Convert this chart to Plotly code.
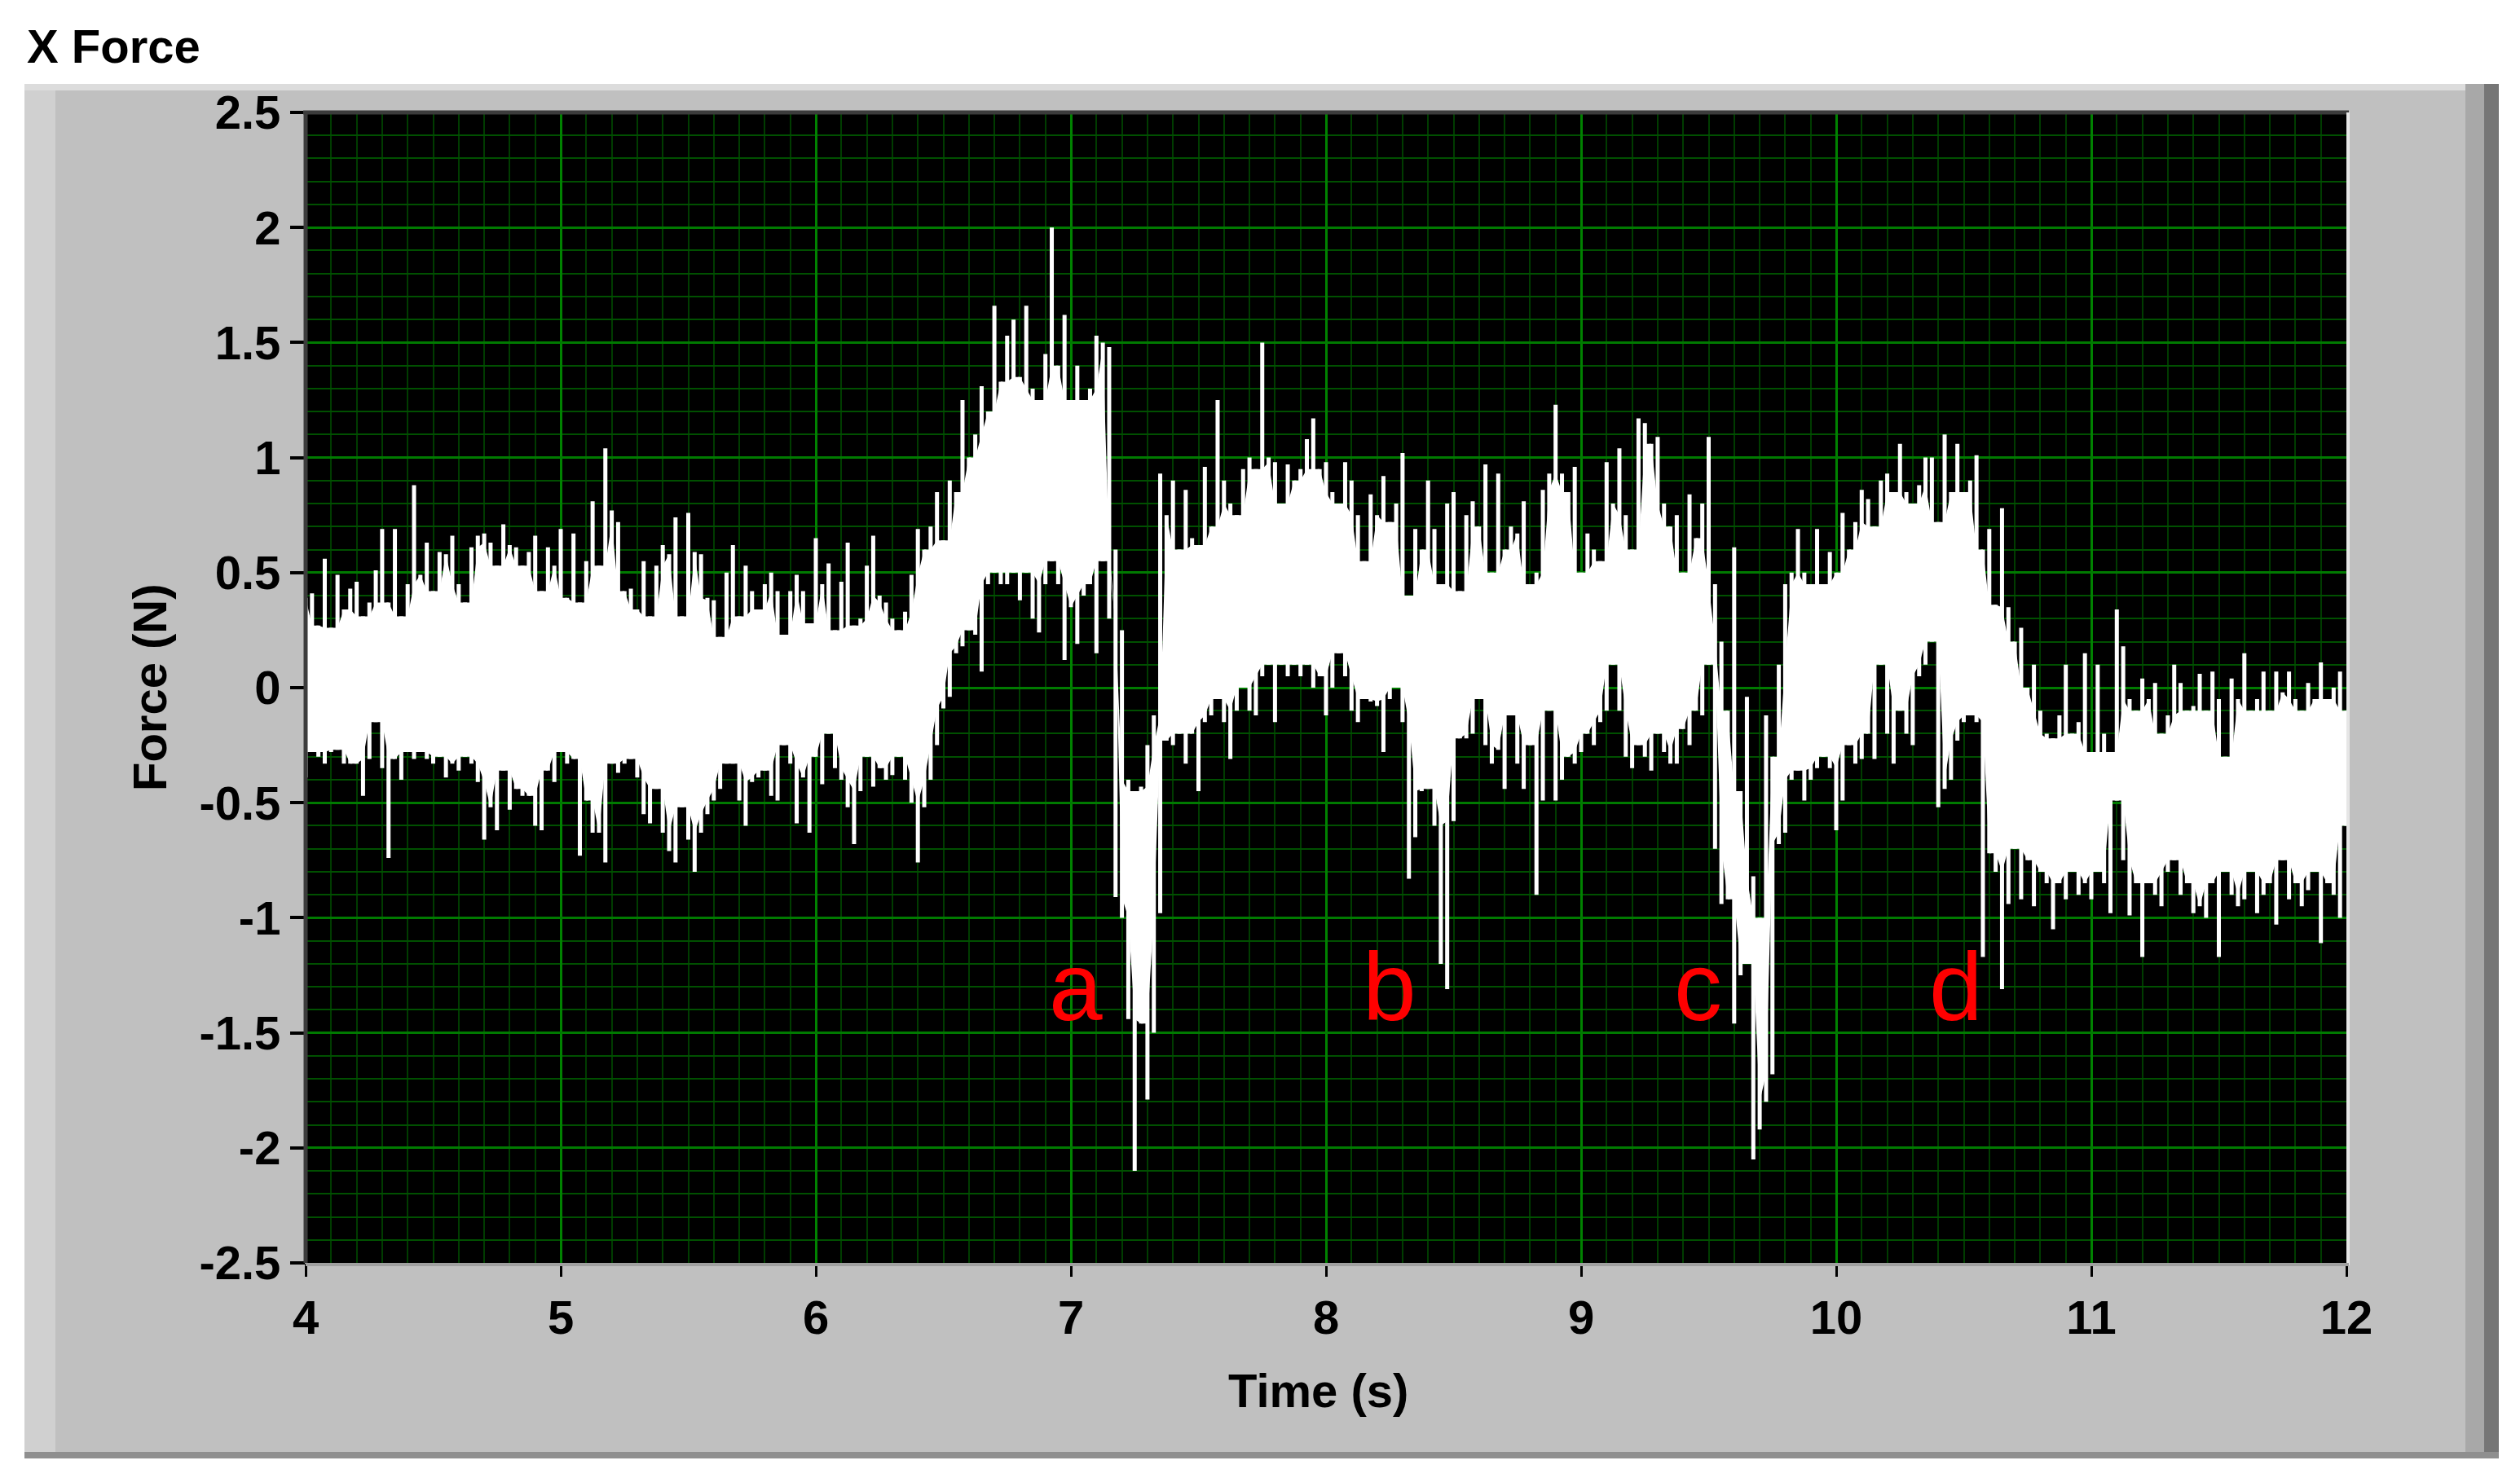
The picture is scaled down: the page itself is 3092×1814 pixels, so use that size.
import plotly.graph_objects as go

t_start = 4.0
dt = 0.025

force_hi = [
    # 4.0 - 5.975
    0.39, 0.41, 0.27, 0.56, 0.26, 0.49, 0.34, 0.43, 0.46, 0.31,
    0.37, 0.51, 0.69, 0.37, 0.69, 0.31, 0.45, 0.88, 0.49, 0.63,
    0.42, 0.59, 0.58, 0.66, 0.45, 0.37, 0.61, 0.66, 0.67, 0.63,
    0.53, 0.71, 0.62, 0.61, 0.53, 0.59, 0.66, 0.42, 0.61, 0.53,
    0.69, 0.39, 0.67, 0.37, 0.55, 0.81, 0.53, 1.04, 0.77, 0.72,
    0.42, 0.43, 0.34, 0.55, 0.31, 0.53, 0.62, 0.58, 0.74, 0.31,
    0.76, 0.59, 0.58, 0.39, 0.38, 0.22, 0.50, 0.62, 0.31, 0.53,
    0.42, 0.34, 0.45, 0.50, 0.42, 0.23, 0.42, 0.49, 0.42, 0.28,
    # 6.0 - 7.975
    0.65, 0.45, 0.54, 0.25, 0.46, 0.63, 0.27, 0.30, 0.53, 0.66,
    0.40, 0.37, 0.30, 0.25, 0.33, 0.49, 0.69, 0.60, 0.70, 0.85,
    0.64, 0.90, 0.85, 1.25, 1.00, 1.10, 1.31, 1.20, 1.66, 1.33,
    1.53, 1.60, 1.35, 1.66, 1.30, 1.25, 1.45, 2.00, 1.40, 1.62,
    1.25, 1.40, 1.25, 1.30, 1.53, 1.50, 1.48, 0.60, 0.25, -0.40,
    -0.45, -0.43, -0.25, -0.12, 0.93, 0.75, 0.90, 0.60, 0.86, 0.65,
    0.62, 0.96, 0.70, 1.25, 0.90, 0.80, 0.75, 0.95, 1.00, 0.95,
    1.50, 1.00, 0.98, 0.80, 0.97, 0.90, 0.95, 1.08, 1.17, 0.95,
    # 8.0 - 9.975
    0.98, 0.85, 0.80, 0.98, 0.90, 0.75, 0.55, 0.84, 0.75, 0.92,
    0.72, 0.80, 1.02, 0.40, 0.69, 0.60, 0.90, 0.69, 0.45, 0.80,
    0.85, 0.42, 0.75, 0.81, 0.70, 0.97, 0.50, 0.93, 0.60, 0.70,
    0.67, 0.81, 0.45, 0.50, 0.86, 0.93, 1.23, 0.93, 0.85, 0.96,
    0.50, 0.67, 0.60, 0.55, 0.98, 0.80, 1.04, 0.75, 0.60, 1.17,
    1.15, 1.06, 1.09, 0.80, 0.70, 0.75, 0.50, 0.84, 0.65, 0.80,
    1.09, 0.45, 0.20, -0.10, 0.61, -0.45, -0.04, -0.82, -1.00, -0.12,
    -0.30, 0.10, 0.45, 0.50, 0.69, 0.50, 0.45, 0.69, 0.45, 0.59,
    # 10.0 - 11.975
    0.50, 0.76, 0.60, 0.72, 0.86, 0.82, 0.70, 0.90, 0.93, 0.85,
    1.06, 0.85, 0.80, 0.88, 1.00, 1.00, 0.72, 1.10, 0.85, 1.06,
    0.85, 0.90, 1.01, 0.60, 0.69, 0.36, 0.78, 0.35, 0.20, 0.26,
    0.00, 0.10, -0.10, -0.20, -0.22, -0.12, 0.10, -0.20, -0.15, 0.15,
    -0.28, 0.10, -0.20, -0.28, 0.34, 0.18, -0.05, -0.10, 0.04, -0.05,
    0.02, -0.20, -0.12, 0.10, 0.02, -0.10, -0.08, 0.06, -0.10, 0.07,
    -0.05, -0.30, 0.04, -0.05, 0.15, -0.10, -0.05, 0.07, -0.10, 0.07,
    -0.02, 0.07, -0.05, -0.10, 0.02, -0.05, 0.11, -0.05, 0.00, 0.07,
    # 12.0
    -0.10,
]

force_lo = [
    # 4.0 - 5.975
    -0.39, -0.28, -0.30, -0.33, -0.28, -0.27, -0.33, -0.33, -0.33, -0.47,
    -0.31, -0.15, -0.35, -0.74, -0.31, -0.40, -0.28, -0.31, -0.28, -0.31,
    -0.33, -0.30, -0.39, -0.33, -0.36, -0.30, -0.33, -0.41, -0.66, -0.52,
    -0.62, -0.36, -0.53, -0.44, -0.47, -0.47, -0.60, -0.62, -0.36, -0.41,
    -0.28, -0.33, -0.31, -0.73, -0.49, -0.63, -0.63, -0.76, -0.33, -0.37,
    -0.33, -0.31, -0.39, -0.55, -0.59, -0.44, -0.63, -0.71, -0.76, -0.52,
    -0.66, -0.80, -0.63, -0.55, -0.49, -0.44, -0.33, -0.33, -0.49, -0.60,
    -0.41, -0.39, -0.36, -0.47, -0.49, -0.25, -0.33, -0.59, -0.39, -0.63,
    # 6.0 - 7.975
    -0.30, -0.42, -0.20, -0.35, -0.40, -0.52, -0.68, -0.45, -0.30, -0.43,
    -0.35, -0.40, -0.38, -0.30, -0.40, -0.50, -0.76, -0.52, -0.40, -0.25,
    -0.09, -0.04, 0.15, 0.18, 0.25, 0.23, 0.07, 0.45, 0.50, 0.45,
    0.45, 0.50, 0.38, 0.50, 0.30, 0.24, 0.45, 0.55, 0.45, 0.12,
    0.35, 0.19, 0.40, 0.45, 0.15, 0.55, 0.30, -0.91, -1.00, -1.44,
    -2.10, -1.46, -1.79, -1.50, -0.98, -0.23, -0.25, -0.20, -0.33, -0.20,
    -0.45, -0.15, -0.12, -0.05, -0.15, -0.31, -0.10, 0.00, -0.10, -0.12,
    0.05, 0.10, -0.15, 0.10, 0.05, 0.10, 0.05, 0.10, 0.00, 0.05,
    # 8.0 - 9.975
    -0.12, 0.00, 0.15, 0.05, -0.10, -0.15, -0.05, -0.06, -0.08, -0.28,
    -0.05, 0.00, -0.15, -0.83, -0.65, -0.45, -0.44, -0.60, -1.20, -1.31,
    -0.58, -0.22, -0.22, -0.20, -0.05, -0.25, -0.33, -0.27, -0.44, -0.12,
    -0.33, -0.44, -0.25, -0.90, -0.49, -0.10, -0.49, -0.40, -0.30, -0.33,
    -0.28, -0.20, -0.25, -0.15, -0.10, 0.10, -0.10, -0.30, -0.35, -0.25,
    -0.30, -0.36, -0.20, -0.28, -0.33, -0.33, -0.18, -0.25, -0.10, -0.12,
    0.10, -0.70, -0.94, -0.92, -1.46, -1.25, -1.20, -2.05, -1.92, -1.80,
    -1.68, -0.68, -0.63, -0.40, -0.36, -0.49, -0.40, -0.35, -0.30, -0.35,
    # 10.0 - 11.975
    -0.62, -0.49, -0.25, -0.33, -0.31, -0.20, -0.31, 0.10, -0.20, -0.33,
    -0.10, -0.20, -0.25, 0.05, 0.10, 0.20, -0.52, -0.44, -0.40, -0.23,
    -0.15, -0.12, -0.15, -1.17, -0.72, -0.80, -1.31, -0.94, -0.70, -0.92,
    -0.75, -0.95, -0.80, -0.85, -1.05, -0.85, -0.92, -0.80, -0.90, -0.85,
    -0.92, -0.80, -0.85, -0.98, -0.49, -0.75, -0.99, -0.85, -1.17, -0.85,
    -0.90, -0.95, -0.80, -0.75, -0.90, -0.85, -0.98, -0.95, -1.00, -0.85,
    -1.17, -0.80, -0.90, -0.95, -0.92, -0.80, -0.98, -0.90, -0.85, -1.03,
    -0.75, -0.92, -0.85, -0.95, -0.88, -0.80, -1.11, -0.85, -0.90, -1.00,
    # 12.0
    -0.60,
]

x_ticks = [4, 5, 6, 7, 8, 9, 10, 11, 12]
y_ticks = [2.5, 2, 1.5, 1, 0.5, 0, -0.5, -1, -1.5, -2, -2.5]
y_tick_text = ["2.5", "2", "1.5", "1", "0.5", "0", "-0.5", "-1", "-1.5", "-2", "-2.5"]

event_labels = ["a", "b", "c", "d"]
event_times = [7.02, 8.25, 9.46, 10.47]
event_force = -1.30

times = [t_start + dt * i for i in range(len(force_hi))]

# solid core of the band = what all neighbouring columns share
n = len(times)
core_top, core_bot = [], []
for i in range(n):
    a, b = max(0, i - 1), min(n, i + 2)
    top = min(force_hi[a:b])
    bot = max(force_lo[a:b])
    if bot > top:
        top = bot = (top + bot) / 2
    core_top.append(top)
    core_bot.append(bot)

# min/max needles, one per column
nx, ny = [], []
for t, hi, lo in zip(times, force_hi, force_lo):
    nx += [t, t, None]
    ny += [lo, hi, None]

# page geometry in screenshot pixels; the page body adds an 8 px margin
W, H = 3092, 1814
BODY = 8
PL, PR, PT, PB = 375, 2879, 138, 1550


def px(x):
    return (x - PL) / (PR - PL)


def py(y):
    return (PB - y) / (PB - PT)


def rect(x0, y0, x1, y1, color, layer="below"):
    return dict(type="rect", xref="paper", yref="paper",
                x0=px(x0), x1=px(x1), y0=py(y1), y1=py(y0),
                fillcolor=color, line=dict(width=0), layer=layer)


def line(x0, y0, x1, y1, color, width):
    return dict(type="line", xref="paper", yref="paper",
                x0=px(x0), x1=px(x1), y0=py(y0), y1=py(y1),
                line=dict(color=color, width=width), layer="above")


fig = go.Figure()

fig.add_trace(go.Scatter(
    x=times + times[::-1],
    y=core_top + core_bot[::-1],
    fill="toself", fillcolor="white", mode="lines",
    line=dict(width=0), hoverinfo="skip", showlegend=False,
))
fig.add_trace(go.Scatter(
    x=nx, y=ny, mode="lines",
    line=dict(color="white", width=5),
    hoverinfo="skip", showlegend=False,
))

shapes = [
    rect(30, 103, 3066, 1790, "#c0c0c0"),
    rect(30, 103, 68, 1790, "#d0d0d0"),
    rect(30, 103, 3066, 111, "#dcdcdc"),
    rect(3025, 103, 3048, 1790, "#a8a8a8"),
    rect(3048, 103, 3066, 1790, "#767676"),
    rect(30, 1782, 3066, 1790, "#8f8f8f"),
    rect(PL, PT, PR, PB, "black"),
    line(PL - 3, PT, PR + 3, PT, "#3c3c3c", 5),
    line(PL, PT, PL, PB, "#3c3c3c", 5),
    line(PR + 2, PT, PR + 2, PB + 3, "#e6e6e6", 4),
    line(PL, PB + 2, PR + 3, PB + 2, "#a0a0a0", 4),
]

font_b = dict(family="Liberation Sans, Arial, sans-serif", size=58, color="black", weight="bold")

annotations = [
    dict(text="X Force", xref="paper", yref="paper", x=px(31), y=py(56),
         xanchor="left", yanchor="middle", showarrow=False, font=font_b),
    dict(text="Time (s)", xref="paper", yref="paper", x=px(1617), y=py(1706),
         xanchor="center", yanchor="middle", showarrow=False, font=font_b),
    dict(text="Force (N)", xref="paper", yref="paper", x=px(183), y=0.5,
         xanchor="center", yanchor="middle", showarrow=False, textangle=-90, font=font_b),
]
for lab, t in zip(event_labels, event_times):
    annotations.append(dict(
        text=lab, x=t, y=event_force, xref="x", yref="y", showarrow=False,
        xanchor="center", yanchor="middle",
        font=dict(family="Liberation Sans, Arial, sans-serif", size=118, color="#ff0000"),
    ))

fig.update_layout(
    width=W - 2 * BODY, height=H - 2 * BODY,
    margin=dict(l=PL - BODY, r=W - BODY - PR, t=PT - BODY, b=H - BODY - PB),
    paper_bgcolor="white",
    plot_bgcolor="rgba(0,0,0,0)",
    shapes=shapes,
    annotations=annotations,
    xaxis=dict(
        range=[4, 12], tickvals=x_ticks, ticks="outside", ticklen=16, tickwidth=3,
        tickcolor="black", showline=False, zeroline=False,
        showgrid=True, gridcolor="#008200", gridwidth=3,
        minor=dict(dtick=0.1, showgrid=True, gridcolor="#003c00", gridwidth=2, ticks=""),
        tickfont=font_b,
    ),
    yaxis=dict(
        range=[-2.5, 2.5], tickvals=y_ticks, ticktext=y_tick_text,
        ticks="outside", ticklen=18, tickwidth=4, tickcolor="black",
        showline=False, zeroline=False,
        showgrid=True, gridcolor="#007a00", gridwidth=3,
        minor=dict(dtick=0.1, showgrid=True, gridcolor="#005000", gridwidth=2, ticks=""),
        tickfont=font_b,
    ),
)

fig.write_html("out.html")
